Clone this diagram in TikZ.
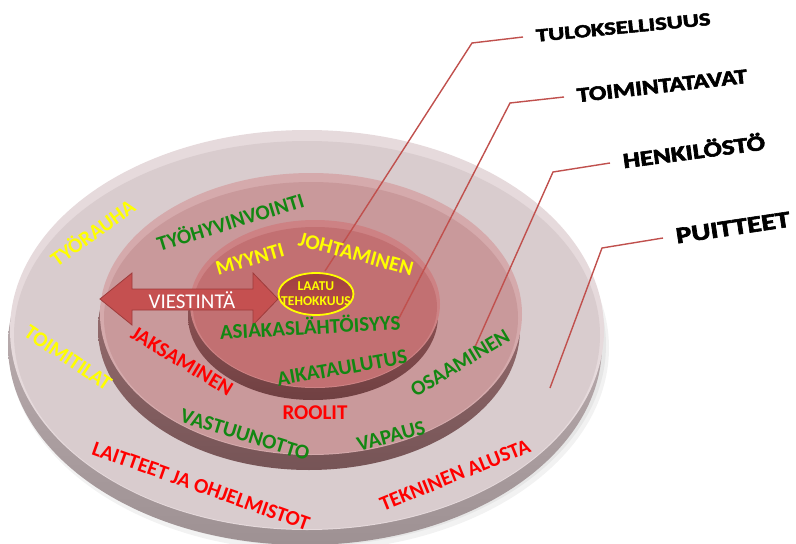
\documentclass[tikz,border=0pt]{standalone}
\usepackage{fontspec}
\usepackage{graphicx}
\setmainfont{Carlito}
\newfontfamily\heavyfont[BoldFeatures={FakeBold=2.6}]{Carlito}
\usetikzlibrary{shapes.geometric}

% disc colours: face, bevel edge, side rim
\definecolor{outerface}{RGB}{217,204,206}
\definecolor{outeredge}{RGB}{230,218,220}
\definecolor{outerrimhi}{RGB}{205,192,194}
\definecolor{outerrimlo}{RGB}{158,145,147}
\definecolor{midface}{RGB}{201,153,155}
\definecolor{midedge}{RGB}{213,170,172}
\definecolor{midrimhi}{RGB}{170,125,127}
\definecolor{midrimlo}{RGB}{118,84,86}
\definecolor{innface}{RGB}{194,112,114}
\definecolor{innedge}{RGB}{205,130,132}
\definecolor{innrimhi}{RGB}{160,95,97}
\definecolor{innrimlo}{RGB}{112,64,66}
\definecolor{leadercol}{RGB}{192,80,77}
\definecolor{txtyellow}{RGB}{255,255,0}
\definecolor{txtgreen}{RGB}{18,135,18}
\definecolor{txtred}{RGB}{255,0,0}
\definecolor{arrowfill}{RGB}{197,80,80}
\definecolor{arrowline}{RGB}{158,60,60}

% scale a caps label to a given width and cap height
\newcommand\fitcaps[3]{\resizebox{#1}{#2}{\smash{#3}\vphantom{T}}}

\tikzset{
  leader/.style={draw=leadercol, line width=1.4pt},
  toplabel/.style={font=\heavyfont\bfseries, text=black, inner xsep=13pt, inner ysep=0pt, anchor=west},
  ringtext/.style={font=\bfseries\fontsize{21}{23}\selectfont, inner sep=0pt},
  yel/.style={ringtext, text=txtyellow},
  grn/.style={ringtext, text=txtgreen},
  rd/.style={ringtext, text=txtred},
}

\begin{document}
\begin{tikzpicture}[x=1pt, y=-1pt]
\useasboundingbox (0,0) rectangle (796,544);

% soft shadow under the base disc
\fill[black, opacity=0.05] (309,348) ellipse [x radius=300, y radius=203];
\fill[black, opacity=0.05] (308,345) ellipse [x radius=298, y radius=201];

% base disc
\path[top color=outerrimhi, bottom color=outerrimlo] (305,345) ellipse [x radius=297, y radius=200];
\fill[outeredge] (307,330) ellipse [x radius=297, y radius=200];
\fill[outerface] (307,335) ellipse [x radius=293, y radius=194];

% middle disc
\path[top color=midrimhi, bottom color=midrimlo] (309,329) ellipse [x radius=211, y radius=141];
\fill[midedge] (311,314) ellipse [x radius=211, y radius=141];
\fill[midface] (311,318) ellipse [x radius=207, y radius=136];

% top disc
\path[top color=innrimhi, bottom color=innrimlo] (313,316) ellipse [x radius=125, y radius=84];
\fill[innedge] (315,304) ellipse [x radius=125, y radius=84];
\fill[innface] (315,307) ellipse [x radius=122, y radius=80];

% double arrow
\filldraw[fill=arrowfill, draw=arrowline, line width=0.8pt, line join=miter]
  (100,299) -- (132,273) -- (132,289) -- (253,289) -- (253,273) -- (278,299)
  -- (253,325) -- (253,310) -- (132,310) -- (132,325) -- cycle;
\node[text=white, font=\fontsize{21}{23}\selectfont, inner sep=0pt] (viest) at (192,300) {VIESTINTÄ};

% central quality ellipse
\node[ellipse, draw=txtyellow, line width=1.8pt, minimum width=75pt, minimum height=42pt,
      inner sep=0pt, top color=arrowfill!80!black, bottom color=arrowfill!95!black] (laatu) at (316,294) {};
\node[text=txtyellow, font=\bfseries\fontsize{13.5}{15}\selectfont, align=center, inner sep=0pt]
  (laatutxt) at (laatu) {LAATU\\TEHOKKUUS};

% leader line end points on the discs and knees
\coordinate (tulA) at (325,271);  \coordinate (tulK) at (472,43);
\coordinate (toiA) at (397,322);  \coordinate (toiK) at (510,103);
\coordinate (henA) at (475,347);  \coordinate (henK) at (553,172);
\coordinate (puiA) at (550,388);  \coordinate (puiK) at (602,248);

% level labels
\node[toplabel, rotate=5.5] (tul) at (523,37)  {\fitcaps{175pt}{12pt}{TULOKSELLISUUS}};
\node[toplabel, rotate=6.5] (toi) at (564,97)  {\fitcaps{171pt}{13.5pt}{TOIMINTATAVAT}};
\node[toplabel, rotate=7.5] (hen) at (610,163) {\fitcaps{143pt}{14pt}{HENKILÖSTÖ}};
\node[toplabel, rotate=8.5] (pui) at (663,238) {\fitcaps{115pt}{15pt}{PUITTEET}};

\draw[leader] (tulA) -- (tulK) -- (tul.west);
\draw[leader] (toiA) -- (toiK) -- (toi.west);
\draw[leader] (henA) -- (henK) -- (hen.west);
\draw[leader] (puiA) -- (puiK) -- (pui.west);

% words on the discs
\node[yel, rotate=36]   (tyorauha)  at (92,232)  {TYÖRAUHA};
\node[yel, rotate=-34]  (toimitilat) at (68,358) {TOIMITILAT};
\node[grn, rotate=17]   (tyohyv)    at (230,221) {TYÖHYVINVOINTI};
\node[yel, rotate=16]   (myynti)    at (250,259) {MYYNTI};
\node[yel, rotate=-15]  (johtam)    at (356,254) {JOHTAMINEN};
\node[grn, rotate=3]    (asiakas)   at (310,326) {ASIAKASLÄHTÖISYYS};
\node[grn, rotate=10]   (aikataul)  at (342,368) {AIKATAULUTUS};
\node[rd,  rotate=-31]  (jaksam)    at (182,361) {JAKSAMINEN};
\node[grn, rotate=31]   (osaam)     at (460,363) {OSAAMINEN};
\node[grn, rotate=-17]  (vastuu)    at (245,435) {VASTUUNOTTO};
\node[rd]               (roolit)    at (315,413) {ROOLIT};
\node[grn, rotate=15]   (vapaus)    at (391,436) {VAPAUS};
\node[rd,  rotate=-19.5] (laitteet) at (201,486) {LAITTEET JA OHJELMISTOT};
\node[rd,  rotate=22]   (tekninen)  at (455,475) {TEKNINEN ALUSTA};
\end{tikzpicture}
\end{document}
